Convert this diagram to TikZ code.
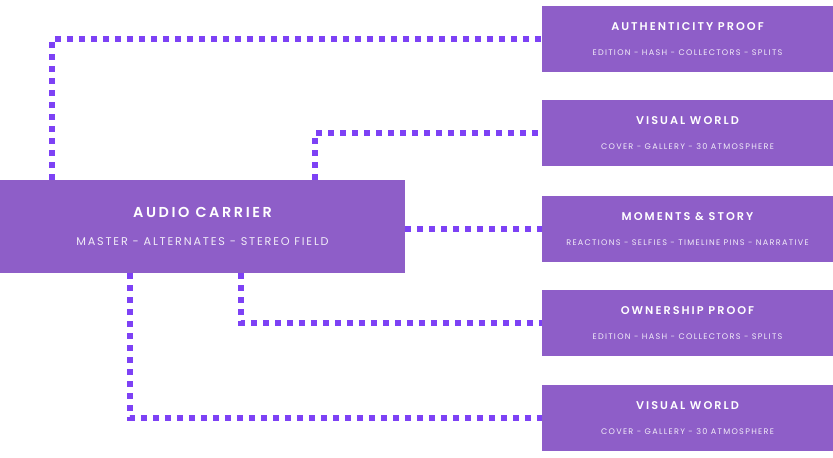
\documentclass[tikz,border=0pt]{standalone}
\usepackage{fontspec}
\setmainfont{Poppins}
\newfontfamily\titlefont[LetterSpace=18]{Poppins SemiBold}
\newfontfamily\subfont[LetterSpace=16]{Poppins}
\definecolor{myviolet}{RGB}{142,94,200}
\definecolor{mydots}{RGB}{125,65,245}
\usetikzlibrary{positioning}
\tikzstyle{panel}=[fill=myviolet,minimum width=5.82cm,minimum height=1.32cm,inner sep=0pt,align=center,text=white]
\tikzstyle{link}=[draw=mydots,line width=0.12cm,dash pattern=on 0.12cm off 0.12cm]
\newcommand{\paneltext}[2]{{\titlefont\fontsize{6.4}{8}\selectfont #1}\\[2pt]{\subfont\fontsize{4.6}{6}\selectfont\color{white!88!myviolet} #2}}

\begin{document}
\begin{tikzpicture}
\useasboundingbox (0,0) rectangle (16.66,-9.14);
\node[panel, minimum width=8.1cm, minimum height=1.86cm] (audio) at (4.05,-4.53)
  {{\titlefont\fontsize{8.2}{10}\selectfont AUDIO CARRIER}\\[4pt]{\subfont\fontsize{6.4}{8}\selectfont\color{white!88!myviolet} MASTER - ALTERNATES - STEREO FIELD}};
\node[panel] (auth) at (13.75,-0.78) {\paneltext{AUTHENTICITY PROOF}{EDITION - HASH - COLLECTORS - SPLITS}};
\node[panel] (visual) at (13.75,-2.66) {\paneltext{VISUAL WORLD}{COVER - GALLERY - 30 ATMOSPHERE}};
\node[panel] (moments) at (13.75,-4.58) {\paneltext{MOMENTS \& STORY}{REACTIONS - SELFIES - TIMELINE PINS - NARRATIVE}};
\node[panel] (owner) at (13.75,-6.46) {\paneltext{OWNERSHIP PROOF}{EDITION - HASH - COLLECTORS - SPLITS}};
\node[panel] (visualb) at (13.75,-8.36) {\paneltext{VISUAL WORLD}{COVER - GALLERY - 30 ATMOSPHERE}};
\draw[link] (audio.north west) ++(1.04,0) |- (auth.west);
\draw[link] (audio.north west) ++(6.3,0) |- (visual.west);
\draw[link] (audio.east |- moments.west) -- (moments.west);
\draw[link] (audio.south west) ++(4.82,0) |- (owner.west);
\draw[link] (audio.south west) ++(2.6,0) |- (visualb.west);
\end{tikzpicture}
\end{document}
